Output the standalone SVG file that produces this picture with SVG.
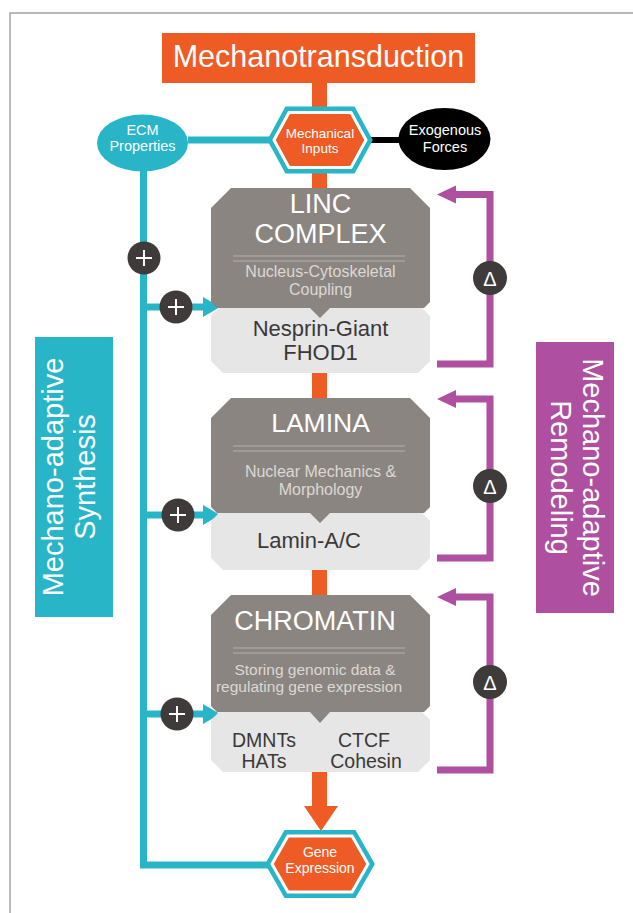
<svg xmlns="http://www.w3.org/2000/svg" width="633" height="913" viewBox="0 0 633 913">
<style>
text{font-family:"Liberation Sans",Arial,sans-serif;text-anchor:middle}
.w{fill:#ffffff}
.sub{fill:#dcd8d4}
.dk{fill:#3a3838}
.dark{fill:#8b8581}
.light{fill:#e6e6e6}
.sep{stroke:#b5b0ab;stroke-width:1;fill:none}
.teal{stroke:#29b5c8;fill:none;stroke-width:7}
.mag{stroke:#ae4f9f;fill:none;stroke-width:7}
.circ{fill:#3e3b3a}
.plus{stroke:#ffffff;stroke-width:2;fill:none}
</style>
<defs>
<polygon id="tah" points="0,-10 17,0 0,10" fill="#29b5c8"/>
<polygon id="mah" points="0,0 19,-9 19,9" fill="#ae4f9f"/>
</defs>
<rect x="0" y="0" width="633" height="913" fill="#ffffff"/>
<path d="M10,913 V13 H633" fill="none" stroke="#a3a3a3" stroke-width="1.5"/>

<g id="connectors">
<rect x="312" y="80" width="15" height="730" fill="#ee5b24"/>
<polygon points="304,806 338,806 321,831" fill="#ee5b24"/>
<line x1="188" y1="140" x2="270" y2="140" class="teal" stroke-width="6"/>
<line x1="370" y1="140" x2="402" y2="140" stroke="#000" stroke-width="6"/>
<polyline points="143.5,168 143.5,865 270,865" class="teal"/>
<line x1="143.5" y1="307" x2="206" y2="307" class="teal"/>
<use href="#tah" x="203" y="307"/>
<line x1="143.5" y1="515" x2="206" y2="515" class="teal"/>
<use href="#tah" x="203" y="515"/>
<line x1="143.5" y1="714" x2="206" y2="714" class="teal"/>
<use href="#tah" x="203" y="714"/>
<polyline points="452,194.5 490,194.5 490,364 437,364" class="mag"/>
<use href="#mah" x="437" y="194.5"/>
<polyline points="452,399 490,399 490,558 437,558" class="mag"/>
<use href="#mah" x="437" y="399"/>
<polyline points="452,597 490,597 490,770 437,770" class="mag"/>
<use href="#mah" x="437" y="597"/>
</g>

<g id="title">
<rect x="162" y="33" width="313" height="50" fill="#ee5b24"/>
<text x="318.5" y="67" class="w" font-size="30.5">Mechanotransduction</text>
</g>

<g id="ecm">
<ellipse cx="142.5" cy="143" rx="45.5" ry="28.5" fill="#29b5c8"/>
<text x="142.5" y="135" class="w" font-size="14.5">ECM</text>
<text x="142.5" y="151" class="w" font-size="14.5">Properties</text>
</g>

<g id="mechanical-inputs">
<polygon points="274,140 289,112.5 351,112.5 366,140 351,167.5 289,167.5" fill="none" stroke="#29b5c8" stroke-width="12" stroke-linejoin="miter"/>
<polygon points="274,140 289,112.5 351,112.5 366,140 351,167.5 289,167.5" fill="#ee5b24" stroke="#ffffff" stroke-width="3"/>
<text x="320" y="138" class="w" font-size="13.5">Mechanical</text>
<text x="320" y="153" class="w" font-size="13.5">Inputs</text>
</g>

<g id="exogenous">
<ellipse cx="444.5" cy="139" rx="46" ry="31" fill="#000000"/>
<text x="445" y="135" class="w" font-size="14.5">Exogenous</text>
<text x="445" y="152" class="w" font-size="14.5">Forces</text>
</g>

<g id="linc">
<polygon class="light" points="219,308 422,308 430,316 430,361 418,373 223,373 211,361 211,316"/>
<polygon class="dark" points="231,188 410,188 430,208 430,302 424,308 330,308 320,318 310,308 217,308 211,302 211,208"/>
<text x="320.5" y="213" class="w" font-size="27">LINC</text>
<text x="320.5" y="243" class="w" font-size="27">COMPLEX</text>
<line x1="233" y1="256" x2="405" y2="256" class="sep"/>
<line x1="233" y1="261" x2="405" y2="261" class="sep"/>
<text x="320.5" y="277" class="sub" font-size="16">Nucleus-Cytoskeletal</text>
<text x="320.5" y="295" class="sub" font-size="16">Coupling</text>
<text x="320.5" y="336" class="dk" font-size="22">Nesprin-Giant</text>
<text x="320.5" y="360" class="dk" font-size="22">FHOD1</text>
</g>

<g id="lamina">
<polygon class="light" points="219,513 422,513 430,521 430,558 418,570 223,570 211,558 211,521"/>
<polygon class="dark" points="231,398 410,398 430,418 430,507 424,513 330,513 320,523 310,513 217,513 211,507 211,418"/>
<text x="320.5" y="432" class="w" font-size="26.5">LAMINA</text>
<line x1="233" y1="446" x2="405" y2="446" class="sep"/>
<line x1="233" y1="451" x2="405" y2="451" class="sep"/>
<text x="320.5" y="477" class="sub" font-size="16">Nuclear Mechanics &amp;</text>
<text x="320.5" y="495" class="sub" font-size="16">Morphology</text>
<text x="309" y="548" class="dk" font-size="22">Lamin-A/C</text>
</g>

<g id="chromatin">
<polygon class="light" points="219,712 422,712 430,720 430,760 418,772 223,772 211,760 211,720"/>
<polygon class="dark" points="231,595 410,595 430,615 430,706 424,712 330,712 320,723 310,712 217,712 211,706 211,615"/>
<text x="315" y="630" class="w" font-size="27">CHROMATIN</text>
<line x1="233" y1="648" x2="405" y2="648" class="sep"/>
<line x1="233" y1="653" x2="405" y2="653" class="sep"/>
<text x="315" y="675" class="sub" font-size="15.5">Storing genomic data &amp;</text>
<text x="309" y="692" class="sub" font-size="15.5">regulating gene expression</text>
<text x="264" y="747" class="dk" font-size="19.5">DMNTs</text>
<text x="264" y="768" class="dk" font-size="19.5">HATs</text>
<text x="364" y="747" class="dk" font-size="19.5">CTCF</text>
<text x="366" y="768" class="dk" font-size="19.5">Cohesin</text>
</g>

<g id="gene-expression">
<polygon points="272,864 288,836 352,836 368,864 352,892 288,892" fill="none" stroke="#29b5c8" stroke-width="12" stroke-linejoin="miter"/>
<polygon points="272,864 288,836 352,836 368,864 352,892 288,892" fill="#ee5b24" stroke="#ffffff" stroke-width="3"/>
<text x="320" y="857" class="w" font-size="14">Gene</text>
<text x="320" y="873" class="w" font-size="14">Expression</text>
</g>

<g id="plus-1"><circle cx="144" cy="258" r="16.5" class="circ"/><path d="M136,258 H152 M144,250 V266" class="plus"/></g>
<g id="plus-2"><circle cx="176" cy="307" r="16.5" class="circ"/><path d="M168,307 H184 M176,299 V315" class="plus"/></g>
<g id="plus-3"><circle cx="178" cy="515" r="16.5" class="circ"/><path d="M170,515 H186 M178,507 V523" class="plus"/></g>
<g id="plus-4"><circle cx="177" cy="714" r="16.5" class="circ"/><path d="M169,714 H185 M177,706 V722" class="plus"/></g>

<g id="delta-1"><circle cx="490" cy="278" r="17" class="circ"/><text x="490" y="285.5" class="w" font-size="20">Δ</text></g>
<g id="delta-2"><circle cx="490" cy="486" r="17" class="circ"/><text x="490" y="493.5" class="w" font-size="20">Δ</text></g>
<g id="delta-3"><circle cx="490" cy="682" r="17" class="circ"/><text x="490" y="689.5" class="w" font-size="20">Δ</text></g>

<g id="synthesis">
<rect x="35" y="337" width="78" height="280" fill="#29b5c8"/>
<text transform="translate(63,477) rotate(-90)" class="w" font-size="29">Mechano-adaptive</text>
<text transform="translate(95,477) rotate(-90)" class="w" font-size="29">Synthesis</text>
</g>

<g id="remodeling">
<rect x="536" y="342" width="78" height="271" fill="#ae4f9f"/>
<text transform="translate(583,477.5) rotate(90)" class="w" font-size="29">Mechano-adaptive</text>
<text transform="translate(551,477.5) rotate(90)" class="w" font-size="29">Remodeling</text>
</g>
</svg>
